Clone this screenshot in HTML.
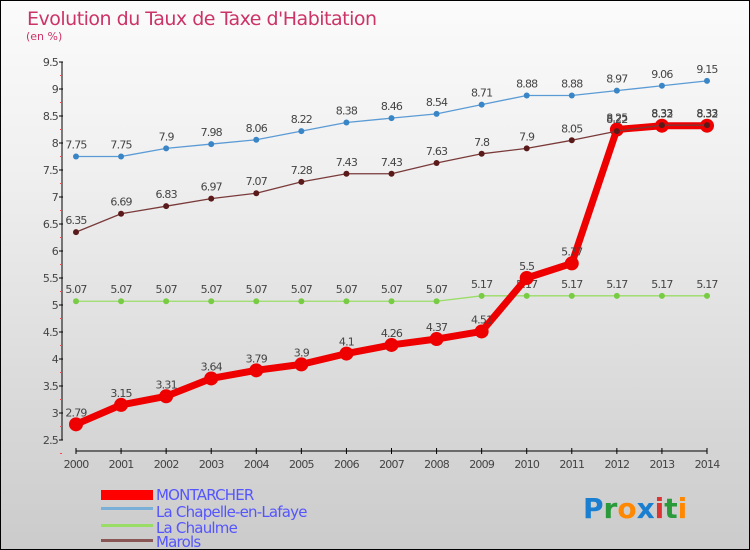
<!DOCTYPE html>
<html><head><meta charset="utf-8"><style>
body{margin:0}
#c{width:750px;height:550px;position:relative;box-sizing:border-box;border:1px solid #000;background:linear-gradient(#fbfbfb,#f0f0f0 30%,#cbcbcb);font-family:"DejaVu Sans","Liberation Sans",sans-serif;overflow:hidden}
text{font-family:"DejaVu Sans","Liberation Sans",sans-serif}
</style></head><body>
<div id="c">
<svg id="s" width="750" height="550" style="position:absolute;left:0;top:0">
<text x="26" y="24" font-size="19" fill="#cc3366" style="letter-spacing:-0.5px">Evolution du Taux de Taxe d'Habitation</text>
<text x="25" y="39" font-size="11" fill="#cc3366">(en %)</text>
<g id="axes"></g><g id="series"></g>
<g>
<rect x="100" y="489" width="52" height="10" fill="#f00"/>
<rect x="100" y="506" width="52" height="3" fill="#7ab0d8"/>
<rect x="100" y="523" width="52" height="3" fill="#99dd66"/>
<rect x="100" y="538" width="52" height="3" fill="#8a5555"/>
<text x="155" y="499" font-size="15" fill="#5555ff" style="letter-spacing:-0.8px">MONTARCHER</text>
<text x="155" y="516" font-size="15" fill="#5555ff" style="letter-spacing:-0.8px">La Chapelle-en-Lafaye</text>
<text x="155" y="532" font-size="15" fill="#5555ff" style="letter-spacing:-0.8px">La Chaulme</text>
<text x="155" y="546" font-size="15" fill="#5555ff" style="letter-spacing:-0.8px">Marols</text>
</g>
<text x="582" y="517" font-size="28" font-weight="bold"><tspan fill="#1a7fd0">P</tspan><tspan fill="#2a9a3a">r</tspan><tspan fill="#ff8800">o</tspan><tspan fill="#1a7fd0">x</tspan><tspan fill="#dd3333">i</tspan><tspan fill="#2a9a3a">t</tspan><tspan fill="#ff8800">i</tspan></text>
</svg>
<script>
const years=["2000","2001","2002","2003","2004","2005","2006","2007","2008","2009","2010","2011","2012","2013","2014"];
const yTicks=[2.5,3,3.5,4,4.5,5,5.5,6,6.5,7,7.5,8,8.5,9,9.5];
const montarcher=[2.79,3.15,3.31,3.64,3.79,3.9,4.1,4.26,4.37,4.51,5.5,5.77,8.25,8.32,8.32];
const chapelle=[7.75,7.75,7.9,7.98,8.06,8.22,8.38,8.46,8.54,8.71,8.88,8.88,8.97,9.06,9.15];
const chaulme=[5.07,5.07,5.07,5.07,5.07,5.07,5.07,5.07,5.07,5.17,5.17,5.17,5.17,5.17,5.17];
const marols=[6.35,6.69,6.83,6.97,7.07,7.28,7.43,7.43,7.63,7.8,7.9,8.05,8.22,8.33,8.33];
const NS="http://www.w3.org/2000/svg";
const x=i=>75+i*(706-75)/(years.length-1);
const y=v=>439-(v-2.5)*(439-61)/7;
function mk(tag,at,parent){const e=document.createElementNS(NS,tag);for(const k in at)e.setAttribute(k,at[k]);parent.appendChild(e);return e;}
const ax=document.getElementById('axes'),sg=document.getElementById('series');
let l=mk('line',{x1:61,y1:61,x2:61,y2:439,stroke:'#000'},ax);


l=mk('line',{x1:75,y1:450,x2:706,y2:450,stroke:'#000'},ax);


yTicks.forEach(v=>{mk('line',{x1:58,x2:62,y1:y(v),y2:y(v),stroke:'#000'},ax);
mk('line',{x1:59,x2:61,y1:y(v)+13.5,y2:y(v)+13.5,stroke:'#f44'},ax);
const t=mk('text',{x:57,y:y(v)+4,'font-size':11,fill:'#444','text-anchor':'end','letter-spacing':'-0.8'},ax);t.textContent=String(v);

});
years.forEach((yr,i)=>{mk('line',{x1:x(i),x2:x(i),y1:447,y2:453,stroke:'#000'},ax);
const t=mk('text',{x:x(i),y:467,'font-size':11,fill:'#444','text-anchor':'middle','letter-spacing':'-0.8'},ax);t.textContent=yr;

});
function series(data,color,dot,w,r,name){
const g=mk('g',{},sg);


mk('polyline',{points:data.map((v,i)=>x(i)+','+y(v)).join(' '),fill:'none',stroke:color,'stroke-width':w,'stroke-linejoin':'round'},g);
data.forEach((v,i)=>{const c=mk('circle',{cx:x(i),cy:y(v),r:r,fill:dot,stroke:w>3?color:'none'},g);


const t=mk('text',{x:x(i),y:y(v)-8,'font-size':11,fill:'#444','text-anchor':'middle','letter-spacing':'-0.8'},g);t.textContent=String(v);

});}
series(chapelle,'#5b9bd5','#3a85c6',1.3,3,'chapelle');
series(chaulme,'#99dd66','#77cc44',1.3,3,'chaulme');
series(montarcher,'#ee0000','#ee0000',7,6.5,'montarcher');
series(marols,'#7a3a3a','#5a1a1a',1.3,3,'marols');
</script>
</div></body></html>
